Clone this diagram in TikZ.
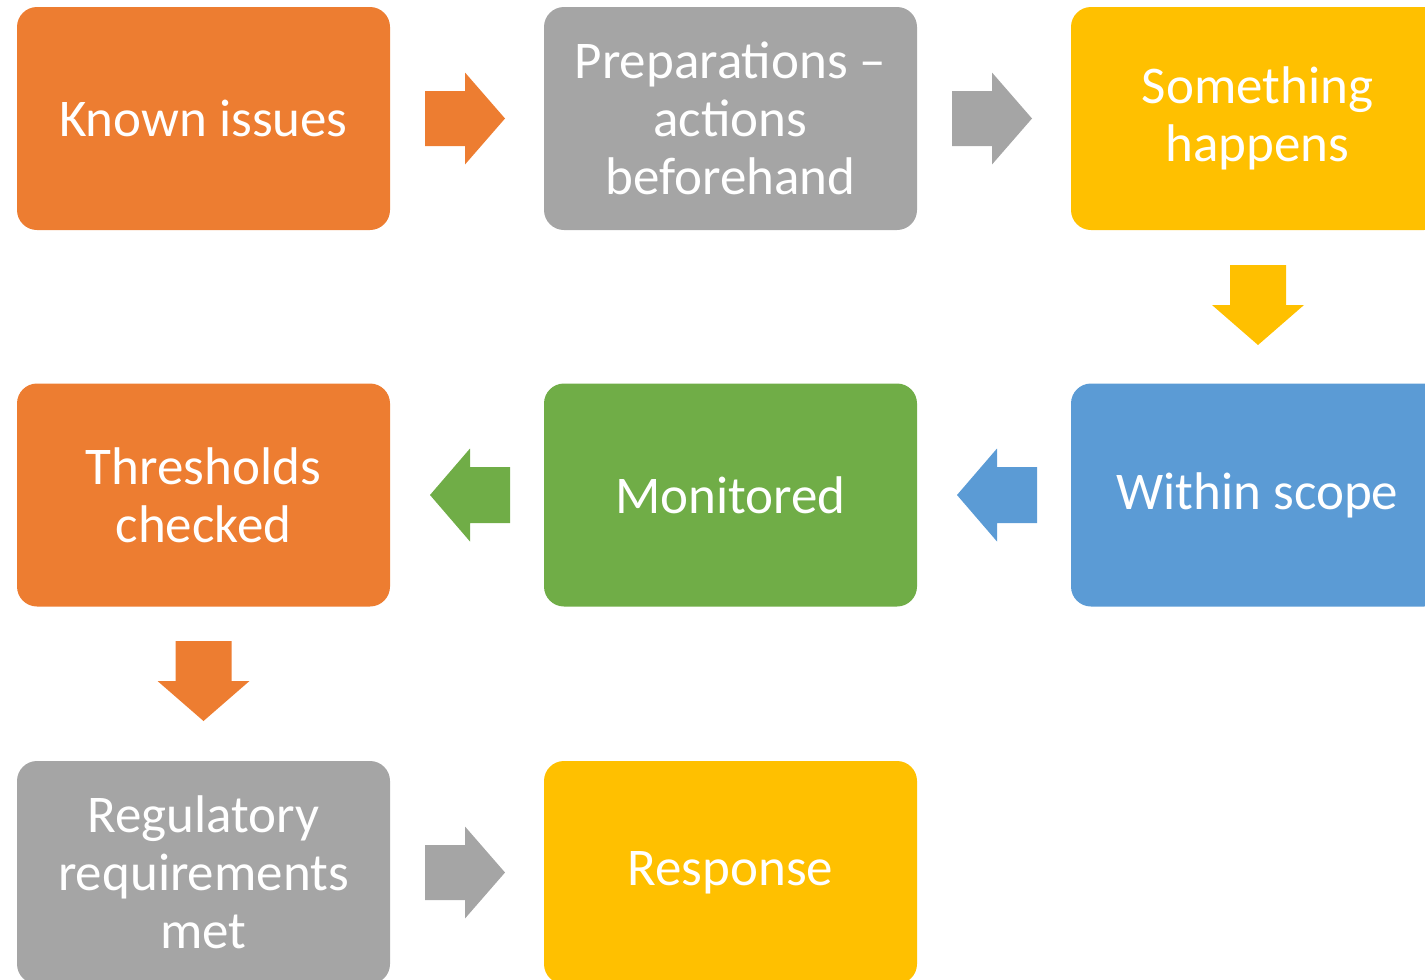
\documentclass[tikz,border=0pt]{standalone}
\usepackage{fontspec}
\setmainfont{Carlito}
\definecolor{cOrange}{HTML}{ED7D31}
\definecolor{cGray}{HTML}{A5A5A5}
\definecolor{cGold}{HTML}{FFC000}
\definecolor{cBlue}{HTML}{5B9BD5}
\definecolor{cGreen}{HTML}{70AD47}
\tikzset{
  box/.style={rectangle, rounded corners=20pt, minimum width=373pt, minimum height=223pt,
    inner sep=0pt, align=center, text=white, font=\fontsize{53}{58}\selectfont},
  rarr/.pic={\fill (0,-27.5)--(40,-27.5)--(40,-46)--(80,0)--(40,46)--(40,27.5)--(0,27.5)--cycle;},
  larr/.pic={\fill (0,0)--(40,-46.5)--(40,-28)--(80,-28)--(80,28)--(40,28)--(40,46.5)--cycle;},
  darr/.pic={\fill (-28,0)--(28,0)--(28,40)--(46,40)--(0,80)--(-46,40)--(-28,40)--cycle;}
}
\begin{document}
\begin{tikzpicture}[x=1pt,y=-1pt]
\useasboundingbox (0,0) rectangle (1425,980);
\clip (0,0) rectangle (1425,980);
\node[box, fill=cOrange] (known) at (203.5,118.5) {Known issues};
\node[box, fill=cGray] (prep) at (730.5,118.5) {Preparations –\\actions\\beforehand};
\node[box, fill=cGold] (some) at (1257.5,118.5) {Something\\happens};
\node[box, fill=cBlue] (scope) at (1257.5,495) {Within scope};
\node[box, fill=cGreen] (mon) at (730.5,495) {Monitored};
\node[box, fill=cOrange] (thr) at (203.5,495) {Thresholds\\checked};
\node[box, fill=cGray] (reg) at (203.5,872.5) {Regulatory\\requirements\\met};
\node[box, fill=cGold] (resp) at (730.5,872.5) {Response};
\pic[fill=cOrange] at (425,118.5) {rarr};
\pic[fill=cGray] at (952,118.5) {rarr};
\pic[fill=cGold] at (1258,265) {darr};
\pic[fill=cBlue] at (957,495) {larr};
\pic[fill=cGreen] at (430,495) {larr};
\pic[fill=cOrange] at (203.5,641) {darr};
\pic[fill=cGray] at (425,872.5) {rarr};
\end{tikzpicture}
\end{document}
